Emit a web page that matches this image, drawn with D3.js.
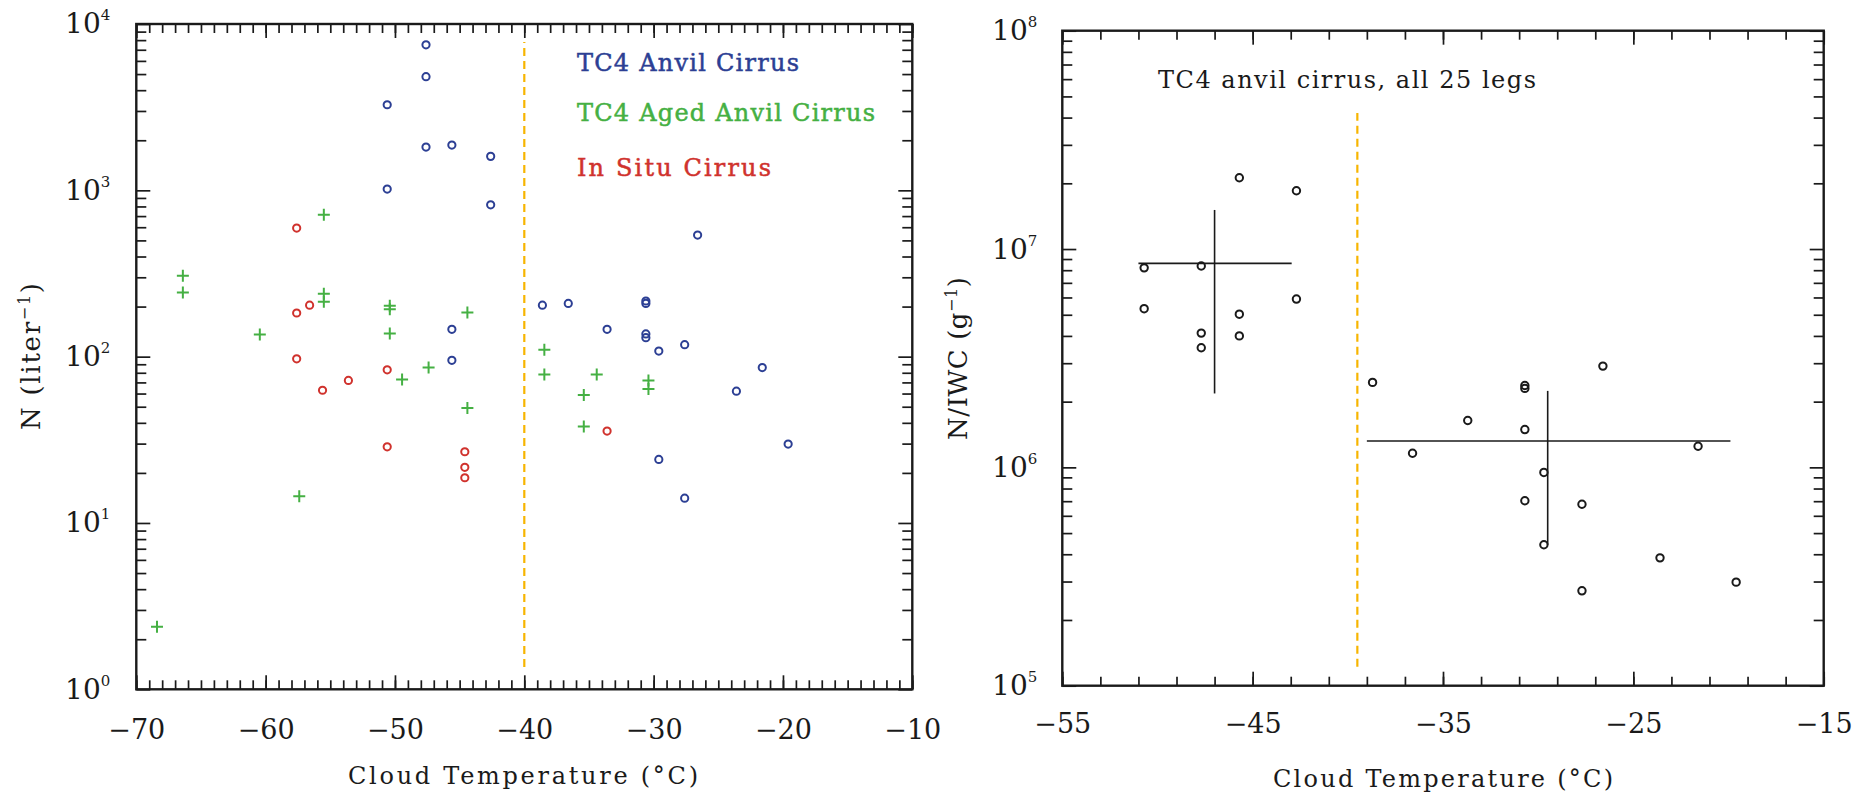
<!DOCTYPE html>
<html>
<head>
<meta charset="utf-8">
<script src="https://cdn.jsdelivr.net/npm/d3@7"></script>
<style>
  body { margin: 0; background: #fff; }
  text { font-family: "DejaVu Serif", serif; fill: #1a1a1a; }
</style>
</head>
<body>
<div id="chart"></div>
<script>
// Data__________________________________________________________
// left panel: number concentration vs temperature
const anvilTemp = [-47.6, -47.6, -50.6, -47.6, -45.6, -42.6, -50.6, -42.6, -45.6, -45.6,
                   -38.6, -36.6, -33.6, -26.6, -30.6, -30.6, -30.6, -30.6, -29.6, -27.6,
                   -21.6, -23.6, -19.6, -29.6, -27.6];
const anvilN = [7500, 4820, 3270, 1820, 1870, 1600, 1018, 818, 146, 95,
                204, 209, 146, 538, 209, 216, 130, 137, 108, 118,
                86, 62, 29.8, 24.1, 14.1];

const agedTemp = [-68.4, -66.4, -66.4, -60.45, -57.4, -55.5, -55.5, -55.5, -50.4, -50.4, -50.4,
                  -49.45, -47.4, -44.4, -44.4, -38.45, -38.45, -35.4, -35.4, -34.4, -30.4, -30.4];
const agedN = [2.38, 306, 243, 136, 14.5, 713, 239, 214, 202, 193, 138,
               73, 86, 184, 49.2, 110, 78, 58.8, 38, 78, 72, 64];

const inSituTemp = [-57.6, -57.6, -56.6, -57.6, -55.6, -53.6, -50.6, -50.6, -44.6, -44.6, -44.6, -33.6];
const inSituN = [593, 183, 204, 97, 62.8, 72, 83.3, 28.7, 26.8, 21.6, 18.7, 35.7];

const legendNames = ['TC4 Anvil Cirrus', 'TC4 Aged Anvil Cirrus', 'In Situ Cirrus'];

// right panel: N/IWC for the 25 anvil legs
const legTemp = [-50.7, -50.7, -47.7, -47.7, -47.7, -45.7, -45.7, -45.7, -42.7, -42.7,
                 -38.7, -36.6, -33.7, -30.7, -30.7, -30.7, -30.7, -29.7, -29.7, -27.7,
                 -27.7, -26.6, -23.6, -21.6, -19.6];
const legRatio = [8.2e6, 5.33e6, 8.36e6, 4.12e6, 3.53e6, 2.12e7, 5.03e6, 4.0e6, 1.85e7, 5.9e6,
                  2.45e6, 1.16e6, 1.64e6, 2.30e6, 2.37e6, 1.49e6, 7.03e5, 9.48e5, 4.42e5, 6.78e5,
                  2.72e5, 2.91e6, 3.85e5, 1.25e6, 2.98e5];

// mean +/- spread crosses (cold group, warm group)
const crossTemp = [-47.0, -29.5];
const crossRatio = [8.6e6, 1.32e6];
const crossTempLo = [-51.0, -39.0];
const crossTempHi = [-42.95, -19.9];
const crossRatioLo = [2.18e6, 4.42e5];
const crossRatioHi = [1.51e7, 2.24e6];

// -40 C dividers
const dividerLeftT = -40, dividerLeftN = [1.36, 7800];
const dividerRightT = -39.5, dividerRightR = [1.22e5, 4.2e7];

const leftXTicks = [-70, -60, -50, -40, -30, -20, -10];
const rightXTicks = [-55, -45, -35, -25, -15];

// Setup_________________________________________________________
const colors = { anvil: '#2c3f94', aged: '#45b043', insitu: '#d0322d', divider: '#f7b500' };

const svg = d3.select('#chart').append('svg')
    .attr('width', 1866)
    .attr('height', 793);

const xL = d3.scaleLinear().domain([-70, -10]).range([136.3, 912.3]);
const yL = d3.scaleLog().domain([1, 1e4]).range([689.3, 24]);
const xR = d3.scaleLinear().domain([-55, -15]).range([1062.3, 1823.7]);
const yR = d3.scaleLog().domain([1e5, 1e8]).range([685.7, 30.7]);

function logTicks(lo, hi) {
    const major = [], minor = [];
    for (let e = lo; e <= hi; e++) {
        major.push(Math.pow(10, e));
        if (e < hi) for (let k = 2; k <= 9; k++) minor.push(k * Math.pow(10, e));
    }
    return { major, minor };
}

// Frame with inward ticks on all four sides
function frame(x, y, xMinor, xMajor, yTicks, xPad, yPad) {
    const [x0, x1] = x.range();
    const [yb, yt] = y.range();
    const g = svg.append('g');

    const put = (axis, tr, vals, size, labels, pad) => {
        const a = g.append('g').attr('transform', tr)
            .call(axis.tickValues(vals).tickSize(-size).tickSizeOuter(0)
                .tickPadding(pad || 0).tickFormat(labels ? labels : ''));
        a.select('.domain').remove();
        a.selectAll('.tick line').attr('stroke', '#1a1a1a').attr('stroke-width', 1.7);
        return a;
    };

    // x ticks
    put(d3.axisBottom(x), `translate(0,${yb})`, xMinor, 9);
    put(d3.axisTop(x), `translate(0,${yt})`, xMinor, 9);
    put(d3.axisTop(x), `translate(0,${yt})`, xMajor, 14);
    const xa = put(d3.axisBottom(x), `translate(0,${yb})`, xMajor, 14, d => d3.format('d')(d).replace('-', '\u2212'), xPad);
    xa.selectAll('.tick text').attr('font-size', 27).attr('fill', '#1a1a1a');

    // y ticks
    put(d3.axisLeft(y), `translate(${x0},0)`, yTicks.minor, 10);
    put(d3.axisRight(y), `translate(${x1},0)`, yTicks.minor, 10);
    put(d3.axisRight(y), `translate(${x1},0)`, yTicks.major, 14);
    const ya = put(d3.axisLeft(y), `translate(${x0},0)`, yTicks.major, 14, d => d, yPad);
    ya.selectAll('.tick text')
        .attr('font-size', 28)
        .attr('fill', '#1a1a1a')
        .text('')
        .each(function (d) {
            const t = d3.select(this);
            t.append('tspan').text('10');
            t.append('tspan').attr('dy', -13).attr('font-size', 15).text(Math.round(Math.log10(d)));
        });

    g.append('rect')
        .attr('x', x0).attr('y', yt)
        .attr('width', x1 - x0).attr('height', yb - yt)
        .attr('fill', 'none').attr('stroke', '#1a1a1a').attr('stroke-width', 2.4);
}

function fitText(sel, len) {
    return sel.attr('textLength', len).attr('lengthAdjust', 'spacing');
}

const plus = (x, y, s) => `M${x - s},${y}H${x + s}M${x},${y - s}V${y + s}`;

// Left panel____________________________________________________
frame(xL, yL, d3.range(-70, -9, 1), leftXTicks, logTicks(0, 4), 31, 26);

svg.append('line')
    .attr('x1', xL(dividerLeftT)).attr('x2', xL(dividerLeftT))
    .attr('y1', yL(dividerLeftN[0])).attr('y2', yL(dividerLeftN[1]))
    .attr('stroke', colors.divider).attr('stroke-width', 2.2).attr('stroke-dasharray', '8,5');

svg.append('g').selectAll('path')
    .data(agedTemp.map((t, i) => [t, agedN[i]]))
    .enter().append('path')
    .attr('d', d => plus(xL(d[0]), yL(d[1]), 6))
    .attr('stroke', colors.aged).attr('stroke-width', 2);

svg.append('g').selectAll('circle')
    .data(inSituTemp.map((t, i) => [t, inSituN[i]]))
    .enter().append('circle')
    .attr('cx', d => xL(d[0])).attr('cy', d => yL(d[1])).attr('r', 3.6)
    .attr('fill', 'none').attr('stroke', colors.insitu).attr('stroke-width', 2);

svg.append('g').selectAll('circle')
    .data(anvilTemp.map((t, i) => [t, anvilN[i]]))
    .enter().append('circle')
    .attr('cx', d => xL(d[0])).attr('cy', d => yL(d[1])).attr('r', 3.6)
    .attr('fill', 'none').attr('stroke', colors.anvil).attr('stroke-width', 2);

// legend
const legColors = [colors.anvil, colors.aged, colors.insitu];
const legLens = [222, 298, 194];
const legY = [70.5, 120.5, 175.5];
legendNames.forEach((name, i) => {
    fitText(svg.append('text')
        .attr('x', 577).attr('y', legY[i])
        .attr('font-size', 24)
        .style('fill', legColors[i])
        .attr('stroke', legColors[i]).attr('stroke-width', 0.5)
        .text(name), legLens[i]);
});

// axis titles
fitText(svg.append('text').attr('x', 348).attr('y', 784).attr('font-size', 24)
    .text('Cloud Temperature (\u00b0C)'), 350);

const ytL = svg.append('text')
    .attr('transform', 'translate(40,356.5) rotate(-90)')
    .attr('text-anchor', 'middle')
    .attr('font-size', 26);
ytL.append('tspan').text('N (liter');
ytL.append('tspan').attr('dy', -10).attr('font-size', 16).text('\u22121');
ytL.append('tspan').attr('dy', 10).text(')');
fitText(ytL, 147);

// Right panel___________________________________________________
frame(xR, yR, d3.range(-55, -14, 2), rightXTicks, logTicks(5, 8), 28, 25);

svg.append('line')
    .attr('x1', xR(dividerRightT)).attr('x2', xR(dividerRightT))
    .attr('y1', yR(dividerRightR[0])).attr('y2', yR(dividerRightR[1]))
    .attr('stroke', colors.divider).attr('stroke-width', 2.2).attr('stroke-dasharray', '8,5');

const cross = svg.append('g').attr('stroke', '#1a1a1a').attr('stroke-width', 1.6);
crossTemp.forEach((t, i) => {
    cross.append('line')
        .attr('x1', xR(crossTempLo[i])).attr('x2', xR(crossTempHi[i]))
        .attr('y1', yR(crossRatio[i])).attr('y2', yR(crossRatio[i]));
    cross.append('line')
        .attr('x1', xR(t)).attr('x2', xR(t))
        .attr('y1', yR(crossRatioLo[i])).attr('y2', yR(crossRatioHi[i]));
});

svg.append('g').selectAll('circle')
    .data(legTemp.map((t, i) => [t, legRatio[i]]))
    .enter().append('circle')
    .attr('cx', d => xR(d[0])).attr('cy', d => yR(d[1])).attr('r', 3.7)
    .attr('fill', 'none').attr('stroke', '#1a1a1a').attr('stroke-width', 2);

fitText(svg.append('text').attr('x', 1158).attr('y', 88).attr('font-size', 24)
    .text('TC4 anvil cirrus, all 25 legs'), 378);

fitText(svg.append('text').attr('x', 1273).attr('y', 786.5).attr('font-size', 24)
    .text('Cloud Temperature (\u00b0C)'), 340);

const ytR = svg.append('text')
    .attr('transform', 'translate(967,358.5) rotate(-90)')
    .attr('text-anchor', 'middle')
    .attr('font-size', 26);
ytR.append('tspan').text('N/IWC (g');
ytR.append('tspan').attr('dy', -10).attr('font-size', 16).text('\u22121');
ytR.append('tspan').attr('dy', 10).text(')');
fitText(ytR, 163);
</script>
</body>
</html>
